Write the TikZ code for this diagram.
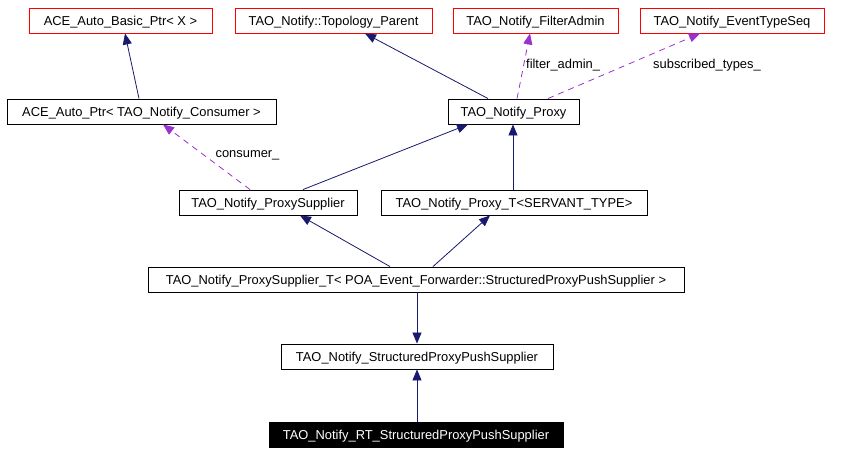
\documentclass[tikz,border=0pt]{standalone}
\usepackage{fontspec}
\setmainfont{Liberation Sans}
\usetikzlibrary{arrows.meta}
\definecolor{navyedge}{HTML}{191970}
\definecolor{purpedge}{HTML}{9A32CD}
\begin{document}
\begin{tikzpicture}[x=1pt,y=-1pt,
  font=\fontsize{12.9}{14}\selectfont,
  cls/.style={draw=black,line width=0.9pt,rectangle,inner sep=0pt,minimum height=25pt,text height=9.3pt,text depth=0pt,fill=white},
  ext/.style={cls,draw=red},
  cur/.style={cls,fill=black,text=white},
  inh/.style={draw=navyedge,line width=0.8pt,-{Triangle[length=11pt,width=9pt]}},
  use/.style={draw=purpedge,line width=0.8pt,dash pattern=on 6pt off 5pt,-{Triangle[length=11pt,width=9pt]}},
  lbl/.style={inner sep=0pt,text=black}]
\useasboundingbox (0,0) rectangle (849,453);
\fill[white] (0,0) rectangle (849,453);
% nodes
\node[ext,minimum width=183pt] (b1) at (120.5,20.5) {ACE\_Auto\_Basic\_Ptr< X >};
\node[ext,minimum width=197pt] (b2) at (333.5,20.5) {TAO\_Notify::Topology\_Parent};
\node[ext,minimum width=165pt] (b3) at (535.5,20.5) {TAO\_Notify\_FilterAdmin};
\node[ext,minimum width=184pt] (b4) at (732,20.5) {TAO\_Notify\_EventTypeSeq};
\node[cls,minimum width=269pt] (b5) at (141.5,111.5) {ACE\_Auto\_Ptr< TAO\_Notify\_Consumer >};
\node[cls,minimum width=131pt] (b6) at (513.5,111.5) {TAO\_Notify\_Proxy};
\node[cls,minimum width=178pt] (b7) at (268,202.5) {TAO\_Notify\_ProxySupplier};
\node[cls,minimum width=266pt] (b8) at (514,202.5) {TAO\_Notify\_Proxy\_T<SERVANT\_TYPE>};
\node[cls,minimum width=536pt] (b9) at (416,279.5) {TAO\_Notify\_ProxySupplier\_T< POA\_Event\_Forwarder::StructuredProxyPushSupplier >};
\node[cls,minimum width=272pt] (b10) at (417,356.5) {TAO\_Notify\_StructuredProxyPushSupplier};
\node[cur,minimum width=294pt] (b11) at (416,435) {TAO\_Notify\_RT\_StructuredProxyPushSupplier};
% edges
\draw[inh] ([xshift=-2.5pt]b5.north) -- ([xshift=4.5pt]b1.south);
\draw[inh] ([xshift=-25.5pt]b6.north) -- ([xshift=31.5pt]b2.south);
\draw[use] ([xshift=3.5pt]b6.north) -- node[lbl,pos=0.52,right=2pt] (l1) {filter\_admin\_} ([xshift=-5.5pt]b3.south);
\draw[use] ([xshift=34.5pt]b6.north) -- ([xshift=-32pt]b4.south);
\node[lbl] (l2) at (707,65) {subscribed\_types\_};
\draw[inh] ([xshift=35pt]b7.north) -- ([xshift=-45.5pt]b6.south);
\draw[use] ([xshift=-18pt]b7.north) -- ([xshift=21.5pt]b5.south);
\node[lbl] (l3) at (247.5,155) {consumer\_};
\draw[inh] ([xshift=-1pt]b8.north) -- ([xshift=-0.5pt]b6.south);
\draw[inh] ([xshift=-26pt]b9.north) -- ([xshift=32pt]b7.south);
\draw[inh] ([xshift=17pt]b9.north) -- ([xshift=-24pt]b8.south);
\draw[inh] ([xshift=1pt]b9.south) -- (b10.north) ;
\draw[inh] ([xshift=1pt]b11.north) -- (b10.south);
\end{tikzpicture}
\end{document}
